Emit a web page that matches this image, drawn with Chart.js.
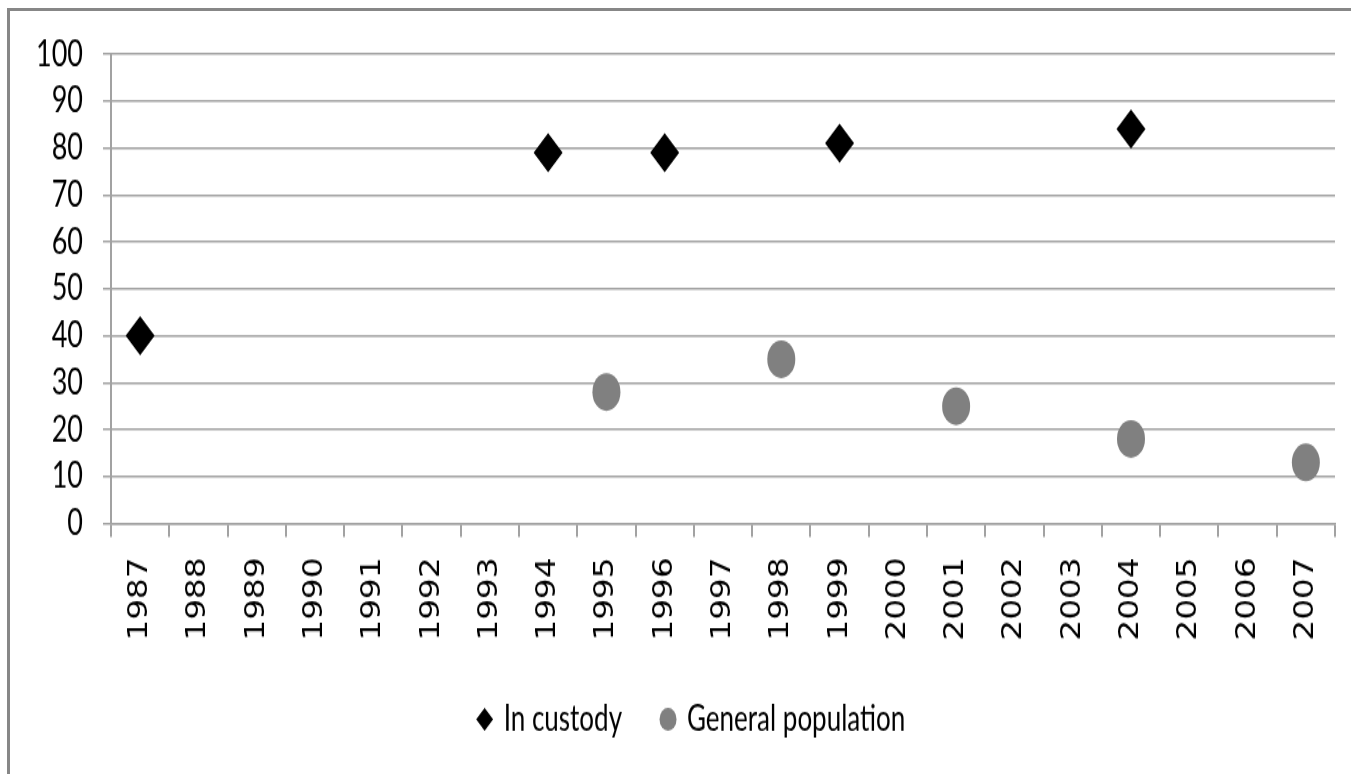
<!DOCTYPE html>
<html>
<head>
<meta charset="utf-8">
<script src="https://cdn.jsdelivr.net/npm/chart.js@4.4.1/dist/chart.umd.min.js"></script>
<style>
  html, body { margin: 0; padding: 0; background: #fff; width: 1351px; height: 774px; overflow: hidden; }
  #frame { position: absolute; left: 7px; top: 8px; width: 1400px; height: 800px;
           border-top: 3px solid #878787; border-left: 3px solid #878787; }
  /* the chart is laid out at 573px and stretched to the full 774px height */
  #wrap { position: absolute; left: 0; top: 0; width: 1351px; height: 573px;
          transform: scaleY(1.3508); transform-origin: 0 0; }
</style>
</head>
<body>
<div id="frame"></div>
<div id="wrap"><canvas id="chart"></canvas></div>
<script>
const years = ['1987', '1988', '1989', '1990', '1991', '1992', '1993', '1994', '1995', '1996',
               '1997', '1998', '1999', '2000', '2001', '2002', '2003', '2004', '2005', '2006', '2007'];
const inCustody = [40, null, null, null, null, null, null, 79, null, 79,
                   null, null, 81, null, null, null, null, 84, null, null, null];
const generalPopulation = [null, null, null, null, null, null, null, null, 28, null,
                           null, 35, null, null, 25, null, null, 18, null, null, 13];
const yTicks = [0, 10, 20, 30, 40, 50, 60, 70, 80, 90, 100];

const gridColor = '#a2a2a2';

// let the y tick labels use the space left of the axis box
const widenYLabelArea = {
  id: 'widenYLabelArea',
  afterLayout(chart) { chart.scales.y.left = 0; }
};

new Chart(document.getElementById('chart'), {
  type: 'line',
  data: {
    labels: years,
    datasets: [
      {
        label: 'In custody',
        data: inCustody,
        showLine: false,
        pointStyle: 'rectRot',
        pointRadius: 14.5,
        pointHoverRadius: 14.5,
        backgroundColor: '#000000',
        borderColor: '#000000',
        borderWidth: 0,
        pointBorderWidth: 0
      },
      {
        label: 'General population',
        data: generalPopulation,
        showLine: false,
        pointStyle: 'circle',
        pointRadius: 14,
        pointHoverRadius: 14,
        backgroundColor: '#808080',
        borderColor: '#808080',
        borderWidth: 0,
        pointBorderWidth: 0
      }
    ]
  },
  plugins: [widenYLabelArea],
  options: {
    responsive: true,
    maintainAspectRatio: false,
    animation: false,
    events: [],
    layout: { padding: { top: 40, left: 49, right: 16, bottom: 17.5 } },
    plugins: {
      tooltip: { enabled: false },
      legend: {
        position: 'bottom',
        labels: {
          usePointStyle: true,
          boxWidth: 12,
          boxHeight: 12,
          padding: 40,
          color: '#000000',
          font: { family: 'Lato', size: 26 }
        }
      }
    },
    scales: {
      x: {
        type: 'category',
        offset: true,
        grid: {
          offset: true,
          drawOnChartArea: false,
          drawTicks: true,
          tickLength: 10,
          color: gridColor,
          lineWidth: 2
        },
        border: { display: true, color: gridColor, width: 1.5 },
        ticks: {
          autoSkip: false,
          maxRotation: 90,
          minRotation: 90,
          padding: 15,
          color: '#000000',
          font: { family: '"DejaVu Sans Condensed", "DejaVu Sans", sans-serif', size: 27 }
        },
        afterFit: (axis) => {
          axis.height = 92;
          axis.paddingLeft = 0;
          axis.paddingRight = 0;
        }
      },
      y: {
        min: 0,
        max: 100,
        afterBuildTicks: (axis) => { axis.ticks = yTicks.map(v => ({ value: v })); },
        grid: {
          drawTicks: true,
          tickLength: 8,
          color: gridColor,
          lineWidth: 1.5
        },
        border: { display: true, color: gridColor, width: 2 },
        ticks: {
          autoSkip: false,
          padding: 20,
          color: '#000000',
          font: { family: 'Lato', size: 27 }
        },
        afterFit: (axis) => { axis.width = 62; }
      }
    }
  }
});
</script>
</body>
</html>
